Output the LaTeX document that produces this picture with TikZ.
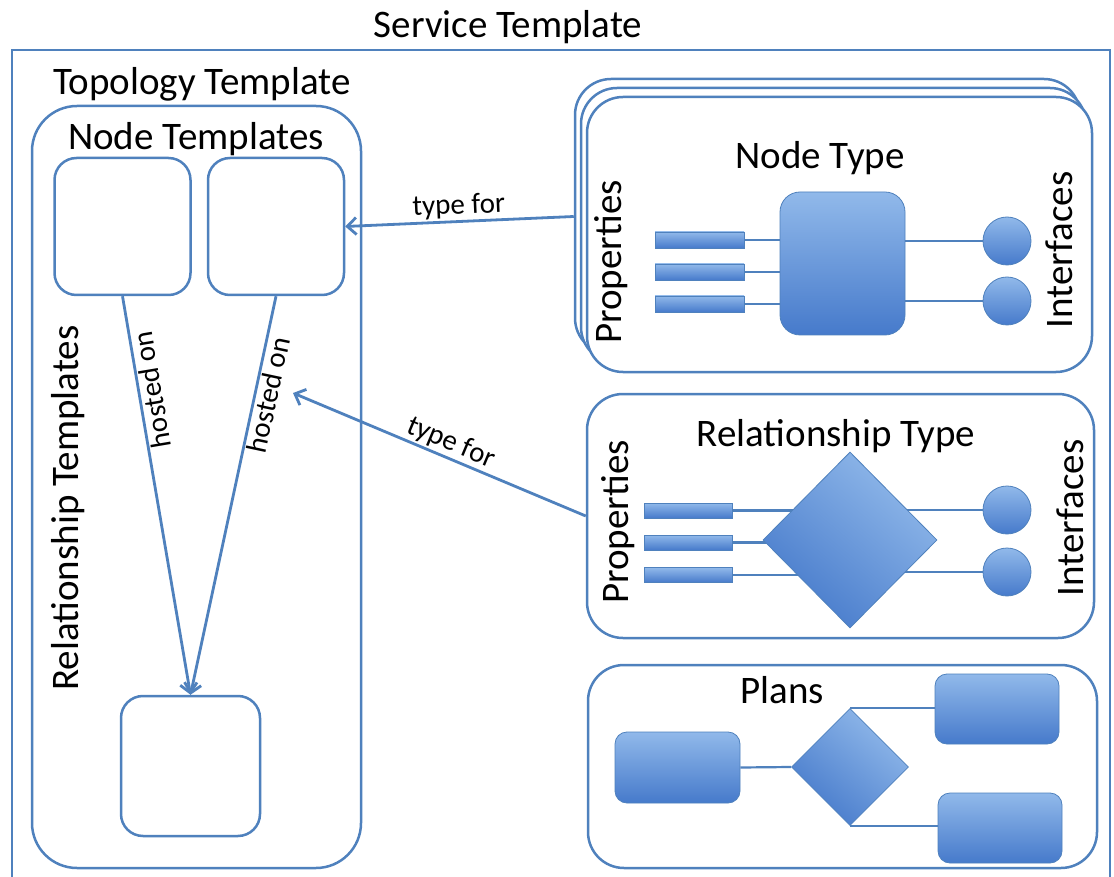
\documentclass[tikz,border=0pt]{standalone}
\usepackage{fontspec}
\setmainfont{Carlito}
\usetikzlibrary{shapes.geometric,arrows.meta}
\definecolor{edge}{RGB}{79,129,189}
\definecolor{filltop}{RGB}{145,185,234}
\definecolor{fillbot}{RGB}{70,122,203}
\tikzset{
  frame/.style={draw=edge, line width=2.5pt},
  box/.style={frame, rectangle, rounded corners=#1, inner sep=0pt, fill=white},
  box/.default=20pt,
  solid/.style={draw=edge, line width=0.8pt, inner sep=0pt,
    top color=filltop, bottom color=fillbot},
  block/.style={solid, rectangle, rounded corners=#1},
  block/.default=12pt,
  rhomb/.style={solid, diamond, shading angle=-40},
  port/.style={solid, circle, minimum size=48pt},
  bar/.style={solid, rectangle, minimum width=89pt, minimum height=16pt},
  wire/.style={draw=edge, line width=2.2pt},
  link/.style={draw=edge, line width=2.8pt, -{Straight Barb[length=9pt,width=17pt]}},
  big/.style={font=\fontsize{39pt}{44pt}\selectfont, inner sep=0pt, text=black},
  small/.style={font=\fontsize{29pt}{33pt}\selectfont, inner sep=1.5pt, text=black},
}
\begin{document}
\begin{tikzpicture}[x=1pt,y=-1pt]
\useasboundingbox (0,0) rectangle (1114,877);

% service template frame
\draw[frame] (12,890) -- (12,50) -- (1110,50) -- (1110,890);
\node[big, anchor=base] (tsvc) at (508,38) {Service Template};

% topology template
\node[big, anchor=base] (ttopo) at (202,95) {Topology Template};
\node[box=45pt, minimum width=329pt, minimum height=762pt] (topo) at (196.5,487) {};
\node[big, anchor=base] (tnt) at (196,150) {Node Templates};
\node[box=22pt, minimum width=136pt, minimum height=137pt] (nt1) at (122.5,226.5) {};
\node[box=22pt, minimum width=136pt, minimum height=137pt] (nt2) at (276,226.5) {};
\node[box=22pt, minimum width=139pt, minimum height=140pt] (nt3) at (190.5,766) {};
\node[big, anchor=base, rotate=90] (trel) at (78,508) {Relationship Templates};

\draw[link] (nt1.south) -- (nt3.north)
  node[small, pos=0.24, rotate=99.6, anchor=north] (lh1) {hosted on};
\draw[link] (nt2.south) -- (nt3.north)
  node[small, pos=0.24, rotate=78, anchor=north] (lh2) {hosted on};

% node type (stacked)
\node[box=36pt, minimum width=505pt, minimum height=275pt] (ntback) at (827.5,216.5) {};
\node[box=36pt, minimum width=505pt, minimum height=275pt] (ntmid) at (833.5,225.5) {};
\node[box=36pt, minimum width=505pt, minimum height=275pt] (ntype) at (839.5,234.5) {};
\node[big, anchor=base] (tntype) at (820,169) {Node Type};
\node[big, anchor=base, rotate=90] (tprop1) at (621,262) {Properties};
\node[big, anchor=base, rotate=90] (tif1) at (1072,250) {Interfaces};
\node[bar] (pb1) at (699.5,240) {};
\node[bar] (pb2) at (699.5,272) {};
\node[bar] (pb3) at (699.5,304) {};
\node[port] (ic1) at (1007,241) {};
\node[port] (ic2) at (1007,301) {};
\node[block=20pt, minimum width=125pt, minimum height=143pt] (core) at (842.5,263.5) {};
\draw[wire] (pb1.east) -- (pb1.east -| core.west);
\draw[wire] (pb2.east) -- (pb2.east -| core.west);
\draw[wire] (pb3.east) -- (pb3.east -| core.west);
\draw[wire] (core.east |- ic1.west) -- (ic1.west);
\draw[wire] (core.east |- ic2.west) -- (ic2.west);

% relationship type
\node[box=36pt, minimum width=507pt, minimum height=244pt] (rtype) at (840.5,516) {};
\node[big, anchor=base] (trtype) at (836,446) {Relationship Type};
\node[big, anchor=base, rotate=90] (tprop2) at (628,522) {Properties};
\node[big, anchor=base, rotate=90] (tif2) at (1083,518) {Interfaces};
\node[bar, minimum width=88pt, minimum height=15pt] (rb1) at (688,510.5) {};
\node[bar, minimum width=88pt, minimum height=15pt] (rb2) at (688,542.5) {};
\node[bar, minimum width=88pt, minimum height=15pt] (rb3) at (688,575) {};
\node[port] (rc1) at (1007,510) {};
\node[port] (rc2) at (1007,572) {};
\coordinate (rmid) at (850,540);
\draw[wire] (rb1.east) -- (rb1.east -| rmid);
\draw[wire] (rb2.east) -- (rb2.east -| rmid);
\draw[wire] (rb3.east) -- (rb3.east -| rmid);
\draw[wire] (rmid |- rc1.west) -- (rc1.west);
\draw[wire] (rmid |- rc2.west) -- (rc2.west);
\node[rhomb, minimum width=174pt, minimum height=176pt] (rdia) at (rmid) {};

% type-for links
\coordinate (tip) at (293,393);
\draw[link] (ntback.west) -- (nt2.east)
  node[small, pos=0.5, sloped, above] (lt1) {type for};
\draw[link] (rtype.west) -- (tip)
  node[small, pos=0.48, sloped, above] (lt2) {type for};

% plans
\node[box=36pt, minimum width=509pt, minimum height=203pt] (plans) at (842.5,766.5) {};
\node[big, anchor=base] (tplans) at (782,703) {Plans};
\node[block, minimum width=125pt, minimum height=71pt] (pl) at (677.5,767.5) {};
\node[block, minimum width=124pt, minimum height=70pt] (ptr) at (997,709) {};
\node[block, minimum width=124pt, minimum height=70pt] (pbr) at (1000,828) {};
\node[rhomb, minimum width=117pt, minimum height=117pt] (pdia) at (850,767) {};
\draw[wire] (pl.east) -- (pdia.west);
\draw[wire] (pdia.north) -- (pdia.north -| ptr.west);
\draw[wire] (pdia.south) -- (pdia.south -| pbr.west);
\end{tikzpicture}
\end{document}
